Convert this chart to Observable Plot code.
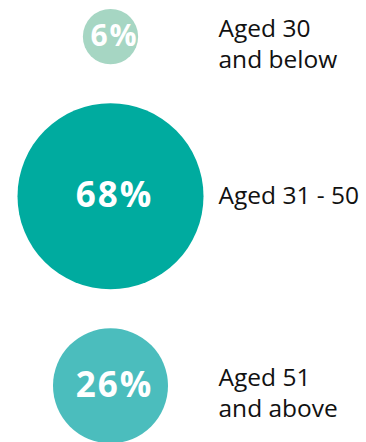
<!DOCTYPE html>
<html>
<head>
<meta charset="utf-8">
<script src="https://cdn.jsdelivr.net/npm/d3@7"></script>
<script src="https://cdn.jsdelivr.net/npm/@observablehq/plot@0.6"></script>
<style>
  html, body { margin: 0; padding: 0; background: #ffffff; }
  #chart svg { display: block; }
  .pct text { letter-spacing: 2px; }
</style>
</head>
<body>
<div id="chart"></div>
<script>
// ---- data ----
const groups = ["Aged 30 and below", "Aged 31 - 50", "Aged 51 and above"];
const labels = ["Aged 30\nand below", "Aged 31 - 50", "Aged 51\nand above"];
const shares = [6, 68, 26];
const valueLabels = ["6%", "68%", "26%"];

// ---- style ----
const palette = ["#a6d6c3", "#00ab9f", "#4bbdbd"];
const W = 366, H = 442;
const maxR = 93, topPad = 8.5, gap = 39;

// radius scale (area-proportional) shared with Plot's r scale
const rScale = d3.scaleSqrt().domain([0, d3.max(shares)]).range([0, maxR]);

// stack bubbles vertically: each centre follows the previous bubble plus a gap
let cursor = topPad;
const rows = groups.map((g, i) => {
  const r = rScale(shares[i]);
  const cy = cursor + r;
  cursor += 2 * r + gap;
  return { group: g, label: labels[i], value: shares[i], text: valueLabels[i], cy, lines: labels[i].split("\n").length };
});

const chart = Plot.plot({
  width: W,
  height: H,
  margin: 0,
  style: { background: "#ffffff", overflow: "visible" },
  x: { type: "point", domain: ["bubble", "label"], range: [109.5, 218], padding: 0, align: 0.5, axis: null },
  y: { type: "identity", axis: null },
  r: { type: "sqrt", domain: [0, d3.max(shares)], range: [0, maxR] },
  color: { domain: groups, range: palette },
  marks: [
    Plot.dot(rows, { x: () => "bubble", y: "cy", r: "value", fill: "group", stroke: null }),
    Plot.text(rows, {
      x: () => "bubble", y: "cy", text: "text",
      fill: "#ffffff", fontWeight: 700,
      fontSize: d => d.value < 10 ? 30 : 35,
      fontFamily: "'Open Sans', sans-serif",
      textAnchor: "middle", lineAnchor: "middle", dx: 4,
      className: "pct"
    }),
    Plot.text(rows.filter(d => d.lines === 1), {
      x: () => "label", y: "cy", text: "label",
      fill: "#111111", fontSize: 24.5, fontFamily: "'Open Sans', sans-serif",
      textAnchor: "start", lineAnchor: "middle"
    }),
    Plot.text(rows.filter(d => d.lines > 1), {
      x: () => "label", y: "cy", text: "label",
      fill: "#111111", fontSize: 24.5, fontFamily: "'Open Sans', sans-serif",
      textAnchor: "start", lineAnchor: "middle", lineHeight: 1.28, dy: 6
    })
  ]
});
document.getElementById("chart").appendChild(chart);
</script>
</body>
</html>
